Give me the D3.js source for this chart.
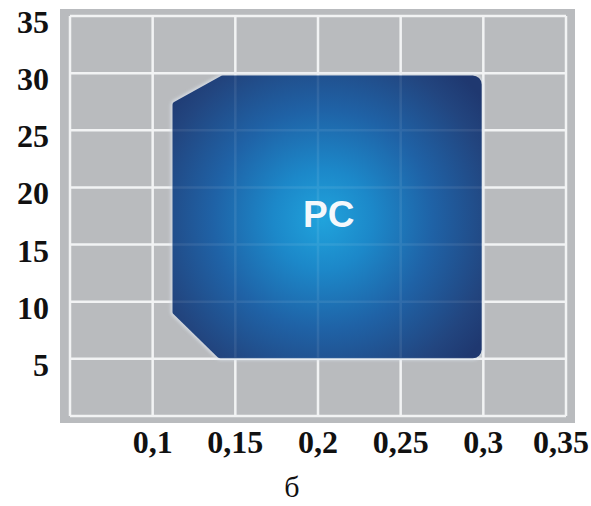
<!DOCTYPE html>
<html><head><meta charset="utf-8">
<script src="https://cdn.jsdelivr.net/npm/d3@7"></script>
<style>html,body{margin:0;padding:0;background:#fff;}svg{display:block;}</style>
</head><body>
<svg id="c" width="591" height="506"></svg>
<script>
const xTicks = [0.05, 0.1, 0.15, 0.2, 0.25, 0.3, 0.35];
const xTickLabels = ["", "0,1", "0,15", "0,2", "0,25", "0,3", "0,35"];
const yTicks = [0, 5, 10, 15, 20, 25, 30, 35];
const yTickLabels = ["", "5", "10", "15", "20", "25", "30", "35"];
// boundary of the PC region (feed, depth)
const regionX = [0.112, 0.142, 0.299, 0.299, 0.14, 0.112];
const regionY = [27.4, 29.8, 29.8, 5.05, 5.05, 9.0];
const regionLabel = "PC";
const caption = "б";

const svg = d3.select("#c");
const x = d3.scaleLinear().domain([0.05, 0.35]).range([70, 566]);
const y = d3.scaleLinear().domain([0, 35]).range([416, 16]);

const defs = svg.append("defs");
const grad = defs.append("radialGradient").attr("id","g")
  .attr("gradientUnits","userSpaceOnUse")
  .attr("cx", x(0.203)).attr("cy", y(17.2)).attr("r", 200);
grad.append("stop").attr("offset","0").attr("stop-color","#20a3dc");
grad.append("stop").attr("offset","0.25").attr("stop-color","#1c88c9");
grad.append("stop").attr("offset","0.55").attr("stop-color","#1f62a6");
grad.append("stop").attr("offset","0.85").attr("stop-color","#22457f");
grad.append("stop").attr("offset","1").attr("stop-color","#1f3870");
const blur = defs.append("filter").attr("id","b").attr("x","-10%").attr("y","-10%").attr("width","120%").attr("height","120%");
blur.append("feGaussianBlur").attr("stdDeviation", 1.5);

// background
svg.append("rect")
  .attr("x", x(0.05) - 10).attr("y", y(35) - 7)
  .attr("width", x(0.35) - x(0.05) + 19).attr("height", y(0) - y(35) + 14)
  .attr("fill", "#b9bbbe");

const grid = svg.append("g");
grid.selectAll("line.v").data(xTicks).join("line")
  .attr("x1", d => x(d)).attr("x2", d => x(d))
  .attr("y1", y(35)).attr("y2", y(0))
  .attr("stroke", "#f2f3f4").attr("stroke-width", 2.5);
grid.selectAll("line.h").data(yTicks).join("line")
  .attr("y1", d => y(d)).attr("y2", d => y(d))
  .attr("x1", x(0.05)).attr("x2", x(0.35))
  .attr("stroke", "#f2f3f4").attr("stroke-width", 2.5);

// region path with rounded corners
const pts = regionX.map((v, i) => [x(v), y(regionY[i])]);
const radii = [3, 3, 9, 9, 4, 3];
function regionPath() {
  const p = d3.path();
  const n = pts.length;
  const mid = [(pts[n-1][0] + pts[0][0]) / 2, (pts[n-1][1] + pts[0][1]) / 2];
  p.moveTo(mid[0], mid[1]);
  for (let i = 0; i < n; i++) {
    const a = pts[i], b = pts[(i + 1) % n];
    p.arcTo(a[0], a[1], b[0], b[1], radii[i]);
  }
  p.closePath();
  return p.toString();
}
svg.append("path").attr("d", regionPath())
  .attr("fill", "none").attr("stroke", "#dfe6ee").attr("stroke-width", 4)
  .attr("opacity", 0.7).attr("filter", "url(#b)");
svg.append("path").attr("d", regionPath()).attr("fill", "url(#g)");

// faint grid showing through
const clip = defs.append("clipPath").attr("id","cp");
clip.append("path").attr("d", regionPath());
const gf = svg.append("g").attr("clip-path","url(#cp)").attr("opacity", 0.08);
gf.selectAll("line.v").data(xTicks).join("line")
  .attr("x1", d => x(d)).attr("x2", d => x(d)).attr("y1", y(35)).attr("y2", y(0))
  .attr("stroke", "#fff").attr("stroke-width", 2.5);
gf.selectAll("line.h").data(yTicks).join("line")
  .attr("y1", d => y(d)).attr("y2", d => y(d)).attr("x1", x(0.05)).attr("x2", x(0.35))
  .attr("stroke", "#fff").attr("stroke-width", 2.5);

// region label
svg.append("text")
  .attr("x", x(0.2065)).attr("y", y(16.5))
  .attr("text-anchor", "middle")
  .attr("font-family", "Liberation Sans, Arial, sans-serif")
  .attr("font-weight", "bold").attr("font-size", 37)
  .attr("fill", "#f4f8fc")
  .text(regionLabel);

// y labels
svg.append("g").selectAll("text").data(yTicks).join("text")
  .attr("x", 49).attr("y", d => y(d) + 17)
  .attr("text-anchor", "end")
  .attr("font-family", "Liberation Serif, Times New Roman, serif")
  .attr("font-weight", "bold").attr("font-size", 32)
  .attr("fill", "#111")
  .text((d, i) => yTickLabels[i]);

// x labels
const xl = svg.append("g").selectAll("text").data(xTicks).join("text")
  .attr("x", d => x(d)).attr("y", 453)
  .attr("text-anchor", "middle")
  .attr("font-family", "Liberation Serif, Times New Roman, serif")
  .attr("font-weight", "bold").attr("font-size", 32)
  .attr("fill", "#111")
  .text((d, i) => xTickLabels[i]);
xl.each(function() {
  const bb = this.getBBox();
  if (bb.x + bb.width > 589) d3.select(this).attr("x", +d3.select(this).attr("x") - (bb.x + bb.width - 589));
});

svg.append("text")
  .attr("x", 292).attr("y", 497)
  .attr("text-anchor", "middle")
  .attr("font-family", "Liberation Serif, Times New Roman, serif")
  .attr("font-size", 30).attr("fill", "#111")
  .text(caption);
</script>
</body></html>
